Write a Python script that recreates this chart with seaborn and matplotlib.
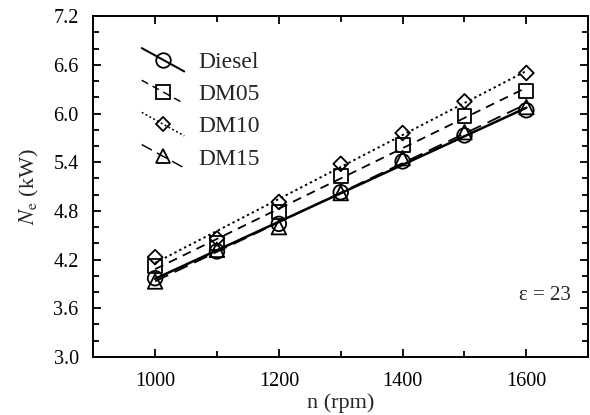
import numpy as np
import pandas as pd
import matplotlib
matplotlib.use("Agg")
import matplotlib.pyplot as plt
from matplotlib.ticker import MultipleLocator, FormatStrFormatter
from matplotlib.legend_handler import HandlerLine2D
import seaborn as sns

# Engine speed (rpm) and effective power (kW) for each fuel
speed = [1000, 1100, 1200, 1300, 1400, 1500, 1600]
diesel = [3.97, 4.30, 4.64, 5.03, 5.41, 5.73, 6.04]
dm05 = [4.12, 4.40, 4.79, 5.23, 5.61, 5.97, 6.28]
dm10 = [4.23, 4.46, 4.91, 5.38, 5.76, 6.15, 6.50]
dm15 = [3.93, 4.32, 4.60, 5.02, 5.45, 5.77, 6.08]
fuels = ["Diesel", "DM05", "DM10", "DM15"]
annotation = "ε = 23"

sns.set_style("ticks")
plt.rcParams["font.family"] = ["Liberation Serif", "DejaVu Serif"]
plt.rcParams["mathtext.fontset"] = "stix"

df = pd.DataFrame({
    "n": speed * 4,
    "Ne": diesel + dm05 + dm10 + dm15,
    "fuel": sum([[f] * len(speed) for f in fuels], []),
})

styles = {
    "Diesel": dict(marker="o", ls="-", ms=10.5, lw=1.8),
    "DM05": dict(marker="s", ls=(0, (5, 3.5)), ms=10, lw=1.3),
    "DM10": dict(marker="D", ls=(0, (1.2, 1.6)), ms=7.5, lw=1.4),
    "DM15": dict(marker="^", ls=(0, (8, 4)), ms=10.5, lw=1.3),
}


class SlopedLineHandler(HandlerLine2D):
    """Legend key drawn as a short descending line with the marker at its middle."""

    def create_artists(self, legend, orig_handle, xdescent, ydescent,
                       width, height, fontsize, trans):
        artists = super().create_artists(legend, orig_handle, xdescent,
                                         ydescent, width, height, fontsize,
                                         trans)
        for a in artists:
            x = np.asarray(a.get_xdata(), dtype=float)
            y = np.asarray(a.get_ydata(), dtype=float)
            xm = 0.5 * (x.min() + x.max())
            a.set_ydata(y - 0.55 * (x - xm))
        return artists


fig = plt.figure(figsize=(5.9, 4.15), dpi=100)
ax = fig.add_axes([0.158, 0.140, 0.839, 0.821])

handles = []
for f in fuels:
    sub = df[df["fuel"] == f]
    st = styles[f]
    sns.regplot(data=sub, x="n", y="Ne", ax=ax, ci=None, scatter=False,
                color="black", line_kws=dict(ls=st["ls"], lw=st["lw"]))
    sns.scatterplot(data=sub, x="n", y="Ne", ax=ax, marker=st["marker"],
                    s=st["ms"] ** 2, facecolor="none", edgecolor="black",
                    linewidth=1.3, legend=False, zorder=3)
    h, = ax.plot([], [], color="black", ls=st["ls"], lw=st["lw"] * 0.8,
                 marker=st["marker"], ms=st["ms"], mfc="none", mec="black",
                 mew=1.3, label=f)
    handles.append(h)

ax.set_xlim(900, 1700)
ax.set_ylim(3.0, 7.2)
ax.xaxis.set_major_locator(MultipleLocator(200))
ax.xaxis.set_minor_locator(MultipleLocator(100))
ax.yaxis.set_major_locator(MultipleLocator(0.6))
ax.yaxis.set_minor_locator(MultipleLocator(0.2))
ax.yaxis.set_major_formatter(FormatStrFormatter("%.1f"))

ax.tick_params(which="both", direction="in", top=True, right=True,
               labelsize=14.5, width=1.3, colors="black")
ax.tick_params(which="major", length=6)
ax.tick_params(which="minor", length=4)
ax.tick_params(axis="x", which="major", pad=11)
ax.tick_params(axis="y", which="major", pad=10.5)
for sp in ax.spines.values():
    sp.set_linewidth(1.4)
    sp.set_color("black")

ax.set_xlabel("n (rpm)", fontsize=16, labelpad=1.5)
ax.set_ylabel(r"$N_{\mathrm{e}}$ (kW)", fontsize=16, labelpad=9)

ax.legend(handles=handles, loc="upper left", bbox_to_anchor=(0.079, 0.924),
          frameon=False, fontsize=17, numpoints=1, handlelength=1.8,
          handletextpad=0.6, labelspacing=0.45, borderaxespad=0,
          handler_map={h: SlopedLineHandler() for h in handles})

ax.text(0.913, 0.179, annotation, transform=ax.transAxes, fontsize=15,
        ha="center", va="center")

fig.savefig("out.png", dpi=100)
